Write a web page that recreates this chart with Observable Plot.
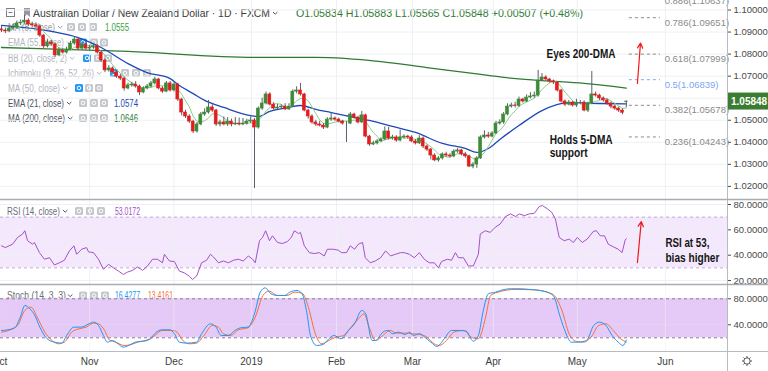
<!DOCTYPE html>
<html><head><meta charset="utf-8">
<script src="https://cdn.jsdelivr.net/npm/d3@7"></script>
<script src="https://cdn.jsdelivr.net/npm/@observablehq/plot@0.6"></script>
<style>
html,body{margin:0;padding:0;background:#fff;}
#wrap{position:relative;width:768px;height:371px;overflow:hidden;}
</style></head><body><div id="wrap"></div>
<script>
// ---------- DATA (AUD/NZD daily, Oct 2018 – May 2019; bar index = trading day) ----------
const open=[1.0912,1.0907,1.0903,1.0916,1.0921,1.0939,1.0943,1.0952,1.0934,1.0930,
1.0925,1.0884,1.0835,1.0853,1.0844,1.0794,1.0816,1.0807,1.0821,1.0848,
1.0866,1.0825,1.0844,1.0825,1.0830,1.0835,1.0807,1.0771,1.0726,1.0735,
1.0717,1.0698,1.0689,1.0644,1.0658,1.0662,1.0653,1.0626,1.0644,1.0653,
1.0667,1.0685,1.0644,1.0630,1.0667,1.0635,1.0662,1.0594,1.0535,1.0517,
1.0494,1.0449,1.0481,1.0526,1.0535,1.0558,1.0544,1.0481,1.0490,1.0481,
1.0494,1.0481,1.0485,1.0481,1.0485,1.0494,1.0499,1.0467,1.0553,1.0576,
1.0617,1.0571,1.0553,1.0558,1.0562,1.0549,1.0562,1.0630,1.0635,1.0617,
1.0544,1.0517,1.0490,1.0481,1.0476,1.0467,1.0503,1.0508,1.0503,1.0494,
1.0485,1.0485,1.0526,1.0512,1.0490,1.0522,1.0426,1.0390,1.0395,1.0404,
1.0413,1.0449,1.0417,1.0422,1.0408,1.0422,1.0426,1.0422,1.0404,1.0395,
1.0417,1.0381,1.0367,1.0340,1.0318,1.0327,1.0345,1.0340,1.0336,1.0358,
1.0363,1.0345,1.0336,1.0290,1.0299,1.0327,1.0422,1.0431,1.0426,1.0440,
1.0485,1.0490,1.0526,1.0562,1.0567,1.0565,1.0594,1.0585,1.0603,1.0608,
1.0612,1.0680,1.0694,1.0685,1.0676,1.0671,1.0635,1.0585,1.0571,1.0580,
1.0567,1.0580,1.0580,1.0544,1.0576,1.0617,1.0612,1.0599,1.0590,1.0576,
1.0562,1.0553,1.0544,1.0583];
const high=[1.0925,1.0918,1.0924,1.0935,1.0950,1.0955,1.0975,1.0960,1.0945,1.0942,
1.0933,1.0890,1.0865,1.0862,1.0850,1.0828,1.0825,1.0832,1.0858,1.0878,
1.0873,1.0855,1.0850,1.0840,1.0846,1.0842,1.0815,1.0778,1.0748,1.0742,
1.0725,1.0708,1.0695,1.0668,1.0672,1.0675,1.0660,1.0652,1.0662,1.0676,
1.0695,1.0690,1.0652,1.0676,1.0675,1.0670,1.0668,1.0600,1.0545,1.0525,
1.0500,1.0490,1.0535,1.0552,1.0590,1.0570,1.0550,1.0500,1.0515,1.0512,
1.0505,1.0512,1.0510,1.0508,1.0505,1.0515,1.0508,1.0560,1.0600,1.0628,
1.0625,1.0580,1.0572,1.0570,1.0575,1.0575,1.0638,1.0652,1.0667,1.0622,
1.0550,1.0525,1.0500,1.0495,1.0485,1.0512,1.0530,1.0515,1.0510,1.0500,
1.0495,1.0535,1.0532,1.0518,1.0540,1.0528,1.0432,1.0405,1.0412,1.0420,
1.0470,1.0468,1.0432,1.0430,1.0455,1.0434,1.0432,1.0430,1.0412,1.0430,
1.0425,1.0388,1.0372,1.0348,1.0335,1.0352,1.0355,1.0348,1.0366,1.0372,
1.0368,1.0355,1.0342,1.0308,1.0335,1.0430,1.0452,1.0445,1.0448,1.0495,
1.0502,1.0535,1.0575,1.0578,1.0582,1.0605,1.0600,1.0615,1.0625,1.0628,
1.0726,1.0712,1.0702,1.0690,1.0682,1.0676,1.0640,1.0592,1.0590,1.0586,
1.0595,1.0590,1.0588,1.0582,1.0721,1.0628,1.0618,1.0606,1.0596,1.0582,
1.0568,1.0560,1.0552,1.0588];
const low=[1.0898,1.0893,1.0897,1.0908,1.0915,1.0930,1.0936,1.0925,1.0918,1.0915,
1.0876,1.0825,1.0828,1.0836,1.0785,1.0788,1.0800,1.0800,1.0815,1.0840,
1.0818,1.0817,1.0818,1.0815,1.0822,1.0800,1.0762,1.0716,1.0718,1.0708,
1.0690,1.0680,1.0632,1.0638,1.0650,1.0645,1.0612,1.0620,1.0638,1.0647,
1.0660,1.0638,1.0622,1.0625,1.0628,1.0628,1.0585,1.0520,1.0508,1.0485,
1.0440,1.0442,1.0475,1.0518,1.0528,1.0536,1.0472,1.0470,1.0475,1.0472,
1.0470,1.0476,1.0474,1.0475,1.0478,1.0485,1.0190,1.0460,1.0545,1.0570,
1.0565,1.0545,1.0548,1.0550,1.0544,1.0545,1.0558,1.0620,1.0610,1.0538,
1.0505,1.0482,1.0472,1.0470,1.0458,1.0462,1.0495,1.0495,1.0488,1.0478,
1.0399,1.0480,1.0505,1.0483,1.0485,1.0420,1.0382,1.0385,1.0388,1.0398,
1.0408,1.0410,1.0410,1.0400,1.0402,1.0415,1.0414,1.0398,1.0388,1.0390,
1.0372,1.0358,1.0320,1.0312,1.0310,1.0320,1.0332,1.0328,1.0330,1.0350,
1.0338,1.0328,1.0285,1.0280,1.0282,1.0322,1.0415,1.0418,1.0420,1.0435,
1.0478,1.0482,1.0520,1.0555,1.0556,1.0558,1.0578,1.0580,1.0598,1.0600,
1.0605,1.0675,1.0678,1.0668,1.0662,1.0628,1.0578,1.0562,1.0565,1.0560,
1.0558,1.0570,1.0538,1.0535,1.0570,1.0605,1.0590,1.0582,1.0568,1.0552,
1.0545,1.0535,1.0525,1.0557];
const close=[1.0907,1.0903,1.0916,1.0921,1.0939,1.0943,1.0952,1.0934,1.0930,1.0925,
1.0884,1.0835,1.0853,1.0844,1.0794,1.0816,1.0807,1.0821,1.0848,1.0866,
1.0825,1.0844,1.0825,1.0830,1.0835,1.0807,1.0771,1.0726,1.0735,1.0717,
1.0698,1.0689,1.0644,1.0658,1.0662,1.0653,1.0626,1.0644,1.0653,1.0667,
1.0685,1.0644,1.0630,1.0667,1.0635,1.0662,1.0594,1.0535,1.0517,1.0494,
1.0449,1.0481,1.0526,1.0535,1.0558,1.0544,1.0481,1.0490,1.0481,1.0494,
1.0481,1.0485,1.0481,1.0485,1.0494,1.0499,1.0467,1.0553,1.0576,1.0617,
1.0571,1.0553,1.0558,1.0562,1.0549,1.0562,1.0630,1.0635,1.0617,1.0544,
1.0517,1.0490,1.0481,1.0476,1.0467,1.0503,1.0508,1.0503,1.0494,1.0485,
1.0485,1.0526,1.0512,1.0490,1.0522,1.0426,1.0390,1.0395,1.0404,1.0413,
1.0449,1.0417,1.0422,1.0408,1.0422,1.0426,1.0422,1.0404,1.0395,1.0417,
1.0381,1.0367,1.0340,1.0318,1.0327,1.0345,1.0340,1.0336,1.0358,1.0363,
1.0345,1.0336,1.0290,1.0299,1.0327,1.0422,1.0431,1.0426,1.0440,1.0485,
1.0490,1.0526,1.0562,1.0567,1.0565,1.0594,1.0585,1.0603,1.0608,1.0612,
1.0680,1.0694,1.0685,1.0676,1.0671,1.0635,1.0585,1.0571,1.0580,1.0567,
1.0580,1.0580,1.0544,1.0576,1.0617,1.0612,1.0599,1.0590,1.0576,1.0562,
1.0553,1.0544,1.0534,1.05848];

// EMA(21) and MA(200): [bar, value]
const ema21=[[0,1.0930],[13,1.0903],[20,1.0875],[26,1.0830],[33,1.0757],[38,1.0716],[44,1.0689],[46,1.0662],[50,1.0621],[53,1.0590],[58,1.0558],[65,1.0521],[67,1.0517],[70,1.0540],[75,1.0558],[78,1.0567],[82,1.0549],[86,1.0535],[91,1.0517],[96,1.0499],[102,1.0472],[108,1.0445],[115,1.0395],[121,1.0372],[124,1.0354],[127,1.0372],[130,1.0413],[135,1.0476],[141,1.0544],[148,1.0580],[156,1.0576],[163,1.0574]];
const ma200=[[0,1.0830],[10,1.0825],[33,1.0812],[66,1.0785],[82,1.0785],[99,1.0766],[111,1.0739],[124,1.0710],[131,1.0694],[141,1.0680],[152,1.0667],[163,1.0646]];

// RSI(14): [bar, value]
const rsi=[[0,47.4],[1,46],[2.9,48.7],[4.2,54],[5.5,56.7],[6.1,59.3],[6.8,51.4],[8.1,48.7],[8.6,50],[9.9,42],[11.2,36.8],[12.5,38],[13.8,32.3],[15.1,34],[16.4,36],[17.7,43.4],[18.9,47.4],[19.6,40.7],[20.9,44.7],[22.2,46],[22.7,42.6],[24,42],[25.3,36.8],[26.6,28.8],[27.9,32.8],[29.2,30],[30.5,27.5],[31.8,24.8],[32.9,26.7],[34.2,28],[35.5,30.7],[36.8,28],[38.1,31.5],[39.4,36.8],[40.7,36.8],[42,34],[42.5,40.7],[43.8,35.4],[45.1,35],[46.4,27.5],[47.7,26],[49,23.5],[49.8,20.8],[50.9,23.5],[52.2,34],[53.5,36],[54.5,40.7],[55.3,38.6],[56.6,34],[57.9,35.4],[59.2,34],[60.5,36],[61.8,36.8],[63.1,35.4],[64.4,39.4],[65.5,36.8],[66.2,34],[67.3,51.4],[68.1,54],[68.9,59.3],[69.9,51.4],[70.7,55.3],[72,50],[73.3,49.2],[74.6,50.8],[75.6,54],[76.4,59.3],[77.5,57],[78,58],[79,47.4],[80.3,42],[81.6,41.3],[82.9,42],[84.2,39.4],[85,44.7],[86.6,44.7],[87.9,43.9],[88.7,42],[90,42],[91,47.4],[92.1,44.7],[93.1,48.7],[94.2,50],[94.9,38],[96.2,34],[97.5,35.4],[98.9,38],[100.2,43.4],[101.5,39.4],[102.8,40.7],[104.1,42],[105.1,42],[106.4,40.7],[107.7,38],[109,42],[110.3,36.8],[111.6,34],[112.9,34],[114,30],[114.8,35],[116.3,36.8],[117.4,36],[118.4,42],[119.2,38],[120.5,38],[121.8,31.5],[123.1,31.5],[124.4,40.7],[124.9,56.7],[126.2,59.3],[127.5,58],[128.8,62],[130.1,64.6],[131.5,70.5],[132.8,72.6],[134.1,70.5],[135.1,72.6],[136.4,71.2],[137.7,72.6],[139,73],[140.3,78.4],[141.1,79.2],[142.4,76.6],[143.5,74],[144.5,68.6],[145.5,54],[146.8,51.4],[148.1,52.7],[149.2,50],[150.2,54],[151.5,50],[152.8,52.7],[154.4,58.8],[155.2,59.3],[156.2,55.3],[157.3,55.3],[158.3,48.7],[159.6,46.6],[160.9,44.7],[161.9,42],[162.7,51.9],[163,53.0172]];

// Stochastic (14,3,3): %K and %D, [bar, value]
const stochK=[[0,31.3],[1.7,32.3],[3.6,36.4],[4.9,51.8],[6.1,69.7],[7.4,64.6],[8.7,54.4],[10,36.4],[11.9,18.5],[13.8,13.3],[15.7,11.8],[17,23.6],[18.9,36.4],[20.8,36.4],[22.8,41.5],[24,44.1],[25.3,39],[26.6,23.6],[27.6,13.3],[28.9,15.9],[30.4,10.8],[31.7,5.6],[33.2,8.2],[34.9,13.3],[36.8,14.9],[38.7,18.5],[40.4,28.7],[41.9,32.3],[43.9,32.3],[45.1,26.2],[46.4,13.3],[48.3,11.8],[50.9,13.3],[52.2,26.2],[54.5,41.5],[56,36.4],[57.3,23.6],[59.2,23.6],[60.9,31.3],[62.4,35.4],[64.3,36.4],[66,56.9],[67.5,90.2],[68.8,96.9],[70.3,87.7],[72,85.1],[73.9,85.1],[75.2,90.2],[77.1,92.8],[78.4,87.7],[79.7,56.9],[80.6,23.6],[82.2,8.2],[83.9,9.7],[85.4,18.5],[86.7,23.6],[88.6,18.5],[90.5,31.3],[92.1,41.5],[94,62.1],[95,56.9],[96.7,15.9],[97.6,15.9],[99.5,28.7],[100.8,31.3],[102,26.2],[103.6,28.7],[105.2,25.1],[106.5,28.7],[107.4,23.6],[109.1,26.2],[110.4,21],[112,13.3],[113.6,6.7],[115.5,18.5],[117.4,31.3],[119.3,31.3],[121.2,30.3],[123.1,14.9],[124.4,23.6],[125.7,62.1],[127,87.7],[128.9,90.2],[130.2,92.8],[132.7,95.4],[135.3,95.4],[137.8,94.4],[140.4,92.8],[143,88.7],[144.2,82.6],[145.5,56.9],[146.8,33.8],[148.7,13.3],[150.6,13.3],[152.6,15.9],[154.5,39],[156,44.1],[157.7,39],[159.3,23.6],[160.9,13.3],[162.1,8.2],[163,16.4277]];
const stochD=[[0,28.7],[2.3,32.3],[4.2,39],[6.1,62.1],[7.7,67.2],[9.3,51.8],[11.3,28.7],[13.2,15.9],[14.8,10.8],[16.4,13.3],[18.3,28.7],[20.2,33.8],[22.1,36.4],[24,42.6],[25.3,41.5],[26.9,31.3],[28.1,16.9],[29.8,13.3],[32,8.2],[33.6,9.2],[35.5,13.3],[38.1,15.9],[40,23.6],[41.9,31.3],[44.5,31.3],[45.8,28.7],[47.3,15.9],[49,10.8],[50.9,11.8],[52.8,23.6],[55,39],[56.6,36.4],[57.9,26.2],[59.8,23.6],[61.8,32.3],[64.3,35.4],[66.2,51.8],[68.2,85.1],[69.8,91.8],[72,85.1],[74.5,85.1],[76.5,90.2],[78.4,88.7],[80.3,62.1],[81.6,31.3],[83.5,10.8],[85.4,15.9],[87.3,21],[89.3,23.6],[91.2,36.4],[93.1,49.2],[94.6,56.9],[95.9,36.4],[97.6,15.9],[99.5,23.6],[101.4,31.3],[103.1,27.2],[105.2,27.2],[107.2,26.2],[109.1,25.1],[111,21],[112.9,10.8],[114.2,8.2],[116.1,15.9],[118,28.7],[120.6,31.3],[122.5,21],[124.4,18.5],[126.3,51.8],[127.6,85.1],[130.2,91.3],[134,94.4],[139.1,93.8],[142.3,90.2],[144.2,85.1],[146.2,62.1],[148.1,26.2],[150,14.4],[151.9,13.3],[153.8,21],[155.8,39],[157.7,41.5],[159.6,31.3],[161.5,18.5],[163,13.4161]];

// Fibonacci retracement levels drawn on the chart
const fibLevels=[0.236,0.382,0.5,0.618,0.786,0.886];
const fibPrices=[1.04243,1.05678,1.06839,1.07999,1.09651,1.10637];

// Axis ticks
const monthTicks=[-0.5,23,45,65.2,87.4,107.2,128.3,150.2,173.2];
const monthLabels=["Oct","Nov","Dec","2019","Feb","Mar","Apr","May","Jun"];
const priceGrid=[1.02,1.03,1.04,1.05,1.06,1.07,1.08,1.09,1.10];
const priceTicks=[1.02,1.03,1.04,1.05,1.07,1.08,1.09,1.10]; // 1.06000 is hidden by the last-price tag
const rsiTicks=[20,40,60,80];
const stochTicks=[40,80];

// Annotations (anchored in bar / value units)
const priceNotes=[{i:142.2,p:1.0798,t:"Eyes 200-DMA"},{i:143,p:1.0410,t:"Holds 5-DMA"},{i:143,p:1.0353,t:"support"}];
const priceArrow=[{i1:165.9,p1:1.0667,i2:166.7,p2:1.0850}];
const rsiNotes=[{i:173.2,v:49.6,t:"RSI at 53,"},{i:173.2,v:37.8,t:"bias higher"}];
const rsiArrow=[{i1:165.9,v1:34.2,i2:166.9,v2:66.6}];
const fibFrom=163.8, fibTo=171.9, fibLabelAt=173;

// ---------- RENDER ----------
const wrap=document.getElementById("wrap");
const FONT='"Liberation Sans", Arial, sans-serif';
const XD=[-0.26,189.4];
const UP="#3d8a37", DN="#e31d1d", GRID="#eef0f3";
const base={width:768, marginLeft:0, marginRight:41, marginTop:0, marginBottom:0,
  x:{domain:XD, axis:null},
  style:{background:"transparent", fontFamily:FONT, fontSize:"9.5px", color:"#4a4a4a"}};
const noteWidth={"Eyes 200-DMA":69,"Holds 5-DMA":63,"support":38,"RSI at 53,":44,"bias higher":54};
function narrowNotes(svg){
  d3.select(svg).selectAll("text").each(function(){
    const w=noteWidth[this.textContent];
    if(w) d3.select(this).attr("textLength",w).attr("lengthAdjust","spacingAndGlyphs");
  });
}
function place(el, y, z){ el.style.position="absolute"; el.style.left="0px"; el.style.top=y+"px"; el.style.zIndex=z; wrap.appendChild(el); return el; }

const bars=close.map((c,i)=>({i,o:open[i],h:high[i],l:low[i],c,up:c>=open[i]}));
const sma5=close.map((c,i)=>i<4?null:{i,v:d3.mean(close.slice(i-4,i+1))}).filter(d=>d);
const fib=fibLevels.map((l,k)=>({l,p:fibPrices[k],col:l===0.5?"#7ea6f2":"#8a8a8a"}));

const price=Plot.plot({...base, height:199,
  y:{domain:[1.01406,1.10431], axis:"right", ticks:priceTicks, tickFormat:d=>d.toFixed(5), tickSize:3, tickPadding:3, label:null},
  marks:[
    Plot.ruleY(priceGrid,{stroke:GRID}),
    Plot.ruleX(monthTicks,{stroke:GRID}),
    Plot.ruleY(fib,{y:"p", x1:()=>fibFrom, x2:()=>fibTo, stroke:"col", strokeDasharray:"3,3"}),
    Plot.text(fib,{x:()=>fibLabelAt, y:"p", dy:5, text:d=>`${d.l}(${d.p.toFixed(5)})`, textAnchor:"start", fill:"col", fontSize:9.5}),
    Plot.line(ma200,{x:d=>d[0], y:d=>d[1], stroke:"#2f7a34", strokeWidth:1.3, curve:"monotone-x"}),
    Plot.line(ema21,{x:d=>d[0], y:d=>d[1], stroke:"#1d48b8", strokeWidth:1.3, curve:"monotone-x"}),
    Plot.line(sma5,{x:"i", y:"v", stroke:"#8ccc8c", strokeWidth:1}),
    Plot.ruleX(bars,{x:"i", y1:"l", y2:"h", stroke:"#5d606b", strokeWidth:1}),
    Plot.rect(bars,{x1:d=>d.i-0.38, x2:d=>d.i+0.38, y1:"o", y2:"c", fill:d=>d.up?UP:DN, stroke:d=>d.up?UP:DN, strokeWidth:0.6}),
    Plot.text(priceNotes,{x:"i", y:"p", text:"t", textAnchor:"start", fontWeight:"bold", fontSize:12, fill:"#161616"}),
    Plot.arrow(priceArrow,{x1:"i1", y1:"p1", x2:"i2", y2:"p2", stroke:"#f01818", strokeWidth:1.2, headLength:7, headAngle:55})
  ]});
narrowNotes(price);
place(price,0,2);

const rsiPlot=Plot.plot({...base, height:84,
  y:{domain:[16.86,83.16], axis:"right", ticks:rsiTicks, tickFormat:d=>d.toFixed(4), tickSize:3, tickPadding:3, label:null},
  marks:[
    Plot.rect([{a:30,b:70}],{x1:()=>XD[0], x2:()=>XD[1], y1:"a", y2:"b", fill:"#f4e8fc"}),
    Plot.ruleY(rsiTicks,{stroke:GRID}),
    Plot.ruleX(monthTicks,{stroke:GRID}),
    Plot.ruleY([30,70],{stroke:"#c7a8d8", strokeDasharray:"3,3"}),
    Plot.line(rsi,{x:d=>d[0], y:d=>d[1], stroke:"#a352c8", strokeWidth:1}),
    Plot.text(rsiNotes,{x:"i", y:"v", text:"t", textAnchor:"start", fontWeight:"bold", fontSize:12, fill:"#161616"}),
    Plot.arrow(rsiArrow,{x1:"i1", y1:"v1", x2:"i2", y2:"v2", stroke:"#f01818", strokeWidth:1.2, headLength:7, headAngle:55})
  ]});
narrowNotes(rsiPlot);
place(rsiPlot,200,2);

const stochPlot=Plot.plot({...base, height:66,
  y:{domain:[-1.08,100.46], axis:"right", ticks:stochTicks, tickFormat:d=>d.toFixed(4), tickSize:3, tickPadding:3, label:null},
  marks:[
    Plot.rect([{a:20,b:80}],{x1:()=>XD[0], x2:()=>XD[1], y1:"a", y2:"b", fill:"#e5c9f7"}),
    Plot.ruleY(stochTicks,{stroke:"#e0e2e6", strokeOpacity:0.6}),
    Plot.ruleX(monthTicks,{stroke:GRID, strokeOpacity:0.6}),
    Plot.ruleY([20,80],{stroke:"#8e7a9a", strokeDasharray:"3,3"}),
    Plot.line(stochD,{x:d=>d[0], y:d=>d[1], stroke:"#f4703a", strokeWidth:1, curve:"monotone-x"}),
    Plot.line(stochK,{x:d=>d[0], y:d=>d[1], stroke:"#2196f3", strokeWidth:1, curve:"monotone-x"})
  ]});
place(stochPlot,285,2);

const timeAxis=Plot.plot({...base, height:20,
  marks:[Plot.text(monthLabels,{x:(d,k)=>monthTicks[k], text:d=>d, frameAnchor:"middle", fontSize:10, fill:"#3c3c3c"})]});
place(timeAxis,351,2);

// ---------- Legends (under the chart, like the reference) ----------
const under=d3.create("svg").attr("width",768).attr("height",371).style("font-family",FONT);
function icon(g,cx,cy,color){
  g.append("rect").attr("x",cx-4).attr("y",cy-4).attr("width",8).attr("height",8).attr("rx",1.5).attr("fill",color);
  g.append("circle").attr("cx",cx).attr("cy",cy).attr("r",1.8).attr("fill","none").attr("stroke","#fff").attr("stroke-width",1);
}
function chevron(g,x,cy,col){ g.append("path").attr("d",`M${x},${cy-1} l2.2,2.2 l2.2,-2.2`).attr("fill","none").attr("stroke",col).attr("stroke-width",1); }
function txt(g,x,y,s,size,col,len,weight){
  const t=g.append("text").attr("x",x).attr("y",y).attr("font-size",size).attr("fill",col).text(s);
  if(len){t.attr("textLength",len).attr("lengthAdjust","spacingAndGlyphs");}
  if(weight)t.attr("font-weight",weight);
  return t;
}
// header
under.append("rect").attr("x",6.5).attr("y",8.5).attr("width",8).attr("height",8).attr("fill","none").attr("stroke","#7b7e87");
under.append("line").attr("x1",8.5).attr("x2",12.5).attr("y1",12.5).attr("y2",12.5).attr("stroke","#7b7e87");
under.append("path").attr("d","M24,8 h6 v9 l-3,-2.5 l-3,2.5 z").attr("fill","#9598a1");
txt(under,33,16.5,"Australian Dollar / New Zealand Dollar · 1D · FXCM",11,"#3c3c3c",237);
chevron(under,273,13,"#555");
txt(under,296,16.5,"O1.05834 H1.05883 L1.05565 C1.05848 +0.00507 (+0.48%)",11,"#2e7a32",287);
// indicator rows
const rows=[
  {y:27,t:"MA (5, close)",c:"#9a9ca3",len:47,icons:[[71,"#c5c7cc"],[82,"#c5c7cc"],[93,"#c5c7cc"]],v:"1.0555",vc:"#43a047",vx:105},
  {y:42.5,t:"EMA (55, close)",c:"#b2b5be",len:56,icons:[[83,"#2196f3"],[94,"#c5c7cc"],[104,"#c5c7cc"]]},
  {y:58,t:"BB (20, close, 2)",c:"#b2b5be",len:59,icons:[[87,"#2196f3"],[98,"#c5c7cc"],[108,"#c5c7cc"]]},
  {y:73,t:"Ichimoku (9, 26, 52, 26)",c:"#b2b5be",len:86,icons:[[114,"#2196f3"],[125,"#c5c7cc"],[136,"#c5c7cc"],[147,"#c5c7cc"]]},
  {y:88,t:"MA (50, close)",c:"#b2b5be",len:52,icons:[[79,"#2196f3"],[89,"#c5c7cc"],[99,"#c5c7cc"]]},
  {y:103,t:"EMA (21, close)",c:"#50535e",len:56,icons:[[83,"#c5c7cc"],[94,"#c5c7cc"],[104,"#c5c7cc"]],v:"1.0574",vc:"#1d48b8",vx:114},
  {y:118,t:"MA (200, close)",c:"#50535e",len:57,icons:[[83,"#c5c7cc"],[94,"#c5c7cc"],[104,"#c5c7cc"]],v:"1.0646",vc:"#2e7a32",vx:114}
];
rows.forEach(r=>{
  txt(under,8,r.y+3.5,r.t,10,r.c,r.len);
  chevron(under,8+r.len+3,r.y,r.c);
  r.icons.forEach(([x,c])=>icon(under,x,r.y,c));
  if(r.v)txt(under,r.vx,r.y+3.5,r.v,10,r.vc,24);
});
// RSI legend
txt(under,7,214.5,"RSI (14, close)",10,"#6a6d78",53);
chevron(under,63,211,"#555");
[[79,"#c5c7cc"],[90,"#c5c7cc"],[101,"#c5c7cc"]].forEach(([x,c])=>icon(under,x,211,c));
txt(under,115,214.5,"53.0172",10,"#a352c8",25);
// Stoch legend
txt(under,7,299,"Stoch (14, 3, 3)",10,"#6a6d78",59);
chevron(under,68,295.5,"#555");
[[83,"#c5c7cc"],[94,"#c5c7cc"],[105,"#c5c7cc"]].forEach(([x,c])=>icon(under,x,295.5,c));
txt(under,115,299,"16.4277",10,"#2196f3",25);
txt(under,148,299,"13.4161",10,"#f4703a",25);
place(under.node(),0,1);

// ---------- Frame lines, price tag, gear (on top) ----------
const overlay=d3.create("svg").attr("width",768).attr("height",371).style("font-family",FONT).style("pointer-events","none");
overlay.append("line").attr("x1",727.5).attr("x2",727.5).attr("y1",0).attr("y2",371).attr("stroke","#b8bbc2");
overlay.append("line").attr("x1",0).attr("x2",768).attr("y1",199.5).attr("y2",199.5).attr("stroke","#a9acb3").attr("stroke-width",1.5);
overlay.append("line").attr("x1",0).attr("x2",768).attr("y1",284.5).attr("y2",284.5).attr("stroke","#a9acb3").attr("stroke-width",1.5);
overlay.append("line").attr("x1",0).attr("x2",768).attr("y1",351.5).attr("y2",351.5).attr("stroke","#b8bbc2");
const lastY=price.scale("y").apply(close[close.length-1]);
overlay.append("rect").attr("x",728).attr("y",lastY-8.5).attr("width",40).attr("height",17).attr("fill","#3b7d30");
overlay.append("text").attr("x",731).attr("y",lastY+3.5).attr("font-size",10).attr("font-weight","bold").attr("fill","#fff").text(close[close.length-1].toFixed(5));
const gear=overlay.append("g").attr("transform","translate(747,361)");
gear.append("circle").attr("r",3.2).attr("fill","none").attr("stroke","#555").attr("stroke-width",1);
d3.range(8).forEach(k=>{const a=k*Math.PI/4; gear.append("line").attr("x1",3.2*Math.cos(a)).attr("y1",3.2*Math.sin(a)).attr("x2",5*Math.cos(a)).attr("y2",5*Math.sin(a)).attr("stroke","#555").attr("stroke-width",1);});
place(overlay.node(),0,3);
</script></body></html>
